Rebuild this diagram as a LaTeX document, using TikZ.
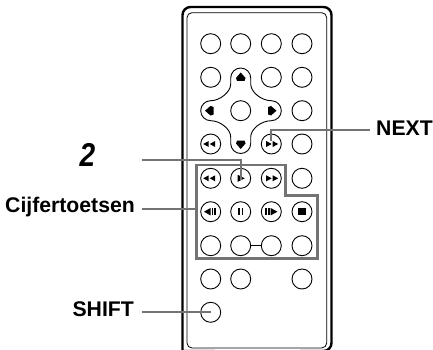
\documentclass[tikz,border=0pt]{standalone}
\usepackage{fontspec}
\usepackage{graphicx}
\setmainfont{Liberation Sans}
\tikzset{
  btn/.style={draw=black,line width=0.9pt,circle,minimum size=20pt,inner sep=0pt,fill=white},
  lead/.style={draw=black!55,line width=2.2pt},
  lab/.style={font=\fontsize{21.2}{24}\selectfont\bfseries,inner sep=0pt,text=black}
}
\begin{document}
\begin{tikzpicture}[x=1pt,y=-1pt]
\useasboundingbox (0,0) rectangle (433,350);
% body
\draw[line width=2.4pt,rounded corners=8pt] (182.5,351) -- (182.5,7) -- (331.5,7) -- (331.5,351) -- (300,351) (215,351) -- (182.5,351);
\draw[line width=0.8pt,rounded corners=5pt] (187,348) -- (187,12.7) -- (326.7,12.7) -- (326.7,348) -- cycle;
% pad
\draw[line width=0.9pt,fill=white] (230.7,78) arc[start angle=180,end angle=360,radius=10]
 -- (250.7,84) .. controls (250.7,92) and (261.3,100.7) .. (271.3,100.7) arc[start angle=-90,end angle=90,radius=10]
 .. controls (261.3,120.7) and (250.7,129) .. (250.7,137) -- (250.7,143.5) arc[start angle=0,end angle=180,radius=10]
 -- (230.7,137) .. controls (230.7,129) and (220,120.7) .. (210.7,120.7) arc[start angle=90,end angle=270,radius=10]
 .. controls (220,100.7) and (230.7,92) .. (230.7,84) -- cycle;
% buttons
\foreach \n/\x/\y in {a1/210.7/43.7,a2/240.7/43.7,a3/271.3/43.7,a4/302/43.7,
 b1/210.7/77.3,b3/271.3/77.3,b4/302/77.3,
 c2/240.7/110.7,c4/302/110.7,
 d1/210.7/144,d3/271.3/144,d4/302/144,
 e1/210.7/178.3,e2/240.7/178.3,e3/271.3/178.3,e4/302/178.3,
 f1/210.7/211.7,f2/240.7/211.7,f3/271.3/211.7,f4/302/211.7,
 g1/210.7/245.7,g2/240.7/245.7,g3/271.3/245.7,g4/302/245.7,
 h1/210.7/279,h2/240.7/279,h4/302/279,
 i1/210.7/312.3}
  \node[btn] (\n) at (\x,\y) {};
\draw[line width=0.9pt] (g2) -- (g3);
% pad arrows
\fill (240.7,72.5) -- (245.5,78) -- (244.5,81) -- (237,81) -- (236,78) -- cycle;
\fill (240.7,149) -- (245.5,143.5) -- (244.5,140.5) -- (237,140.5) -- (236,143.5) -- cycle;
\fill (205,110.7) -- (210.5,106) -- (213.5,107) -- (213.5,114.5) -- (210.5,115.5) -- cycle;
\fill (276.5,110.7) -- (271,106) -- (268,107) -- (268,114.5) -- (271,115.5) -- cycle;
% row d, e symbols
\newcommand{\tl}[2]{\fill (#1-3.5,#2) -- (#1+2,#2-3) -- (#1+2,#2+3) -- cycle;}
\newcommand{\tr}[2]{\fill (#1+3.5,#2) -- (#1-2,#2-3) -- (#1-2,#2+3) -- cycle;}
\foreach \yy in {144,178.3}{
  \tl{206.7}{\yy}\tl{213.2}{\yy}
  \tr{268.2}{\yy}\tr{274.7}{\yy}
}
\fill (244.7,178.3) -- (237.7,174.8) -- (237.7,181.8) -- cycle;
% row f symbols
\fill (204,211.7) -- (210.5,208) -- (210.5,215.4) -- cycle;
\fill (211.5,208) rectangle (213,215.4);
\fill (214.2,208) rectangle (215.7,215.4);
\fill (238.2,208) rectangle (240,215.4);
\fill (241.6,208) rectangle (243.4,215.4);
\fill (265.3,208) rectangle (266.8,215.4);
\fill (268,208) rectangle (269.5,215.4);
\fill (277.5,211.7) -- (270.7,208) -- (270.7,215.4) -- cycle;
\fill (298,208) rectangle (305.5,215.2);
% grey box
\draw[draw=black!55,line width=2.6pt,miter limit=10] (196.7,165) -- (285.7,165) -- (285.7,195.7) -- (317.3,195.7) -- (317.3,258.3) -- (196.7,258.3) -- cycle;
% labels
\node[lab,anchor=west] (next) at (376,128) {NEXT};
\node[lab,anchor=east] (two) at (95.5,155) {\fontsize{33}{36}\selectfont\bfseries\itshape\scalebox{0.85}[1]{2}};
\node[lab,anchor=east] (cijfer) at (135,207) {Cijfertoetsen};
\node[lab,anchor=east] (shift) at (134,309) {SHIFT};
% leaders
\coordinate (nl) at (370,130);
\coordinate (tl) at (142,160);
\coordinate (cl) at (141.5,209);
\coordinate (sl) at (142,312.3);
\draw[lead] (nl) -- (271.3,130) -- (271.3,141);
\draw[lead] (tl) -- (240.7,160) -- (240.7,180);
\draw[lead] (cl) -- (196.7,209);
\draw[lead] (sl) -- (i1.center);
\end{tikzpicture}
\end{document}
